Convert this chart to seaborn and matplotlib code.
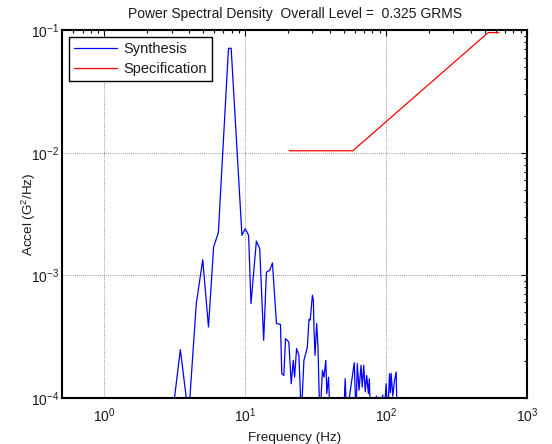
import matplotlib
matplotlib.use("Agg")
import matplotlib.pyplot as plt
import seaborn as sns
import pandas as pd
import numpy as np
from matplotlib.ticker import LogLocator, NullFormatter

# ---- data ----
synth_freq = [2.9, 3.03, 3.46, 3.96, 4.49, 4.99, 5.48, 5.96, 6.44, 7.60, 7.94,
              9.47, 10.0, 10.56, 10.98, 11.99, 12.66, 13.51, 14.13, 14.92, 15.59,
              16.65, 17.78, 18.16, 18.78, 19.31, 20.38, 21.2, 21.91, 22.39, 23.13,
              24.03, 24.99, 26.08, 27.58, 28.34, 28.9, 29.95, 30.45, 30.76, 31.27,
              32.14, 32.82, 33.4, 34.0, 35.3, 36.2, 37.3, 37.9, 39.0, 40.0,
              49.9, 51.2, 52.4, 59.4, 61.1, 62.4, 64.2, 66.3, 67.7, 69.3,
              71.1, 72.8, 74.8, 76.0, 77.3, 83.4, 85.2, 87.7, 94.6, 96.5,
              100.0, 102.8, 105.6, 107.2, 108.6, 111.5, 114.6, 117.8, 119.5]
synth_psd = [5e-5, 7e-5, 2.47e-4, 7e-5, 5.87e-4, 1.34e-3, 3.78e-4, 1.70e-3, 2.23e-3, 0.0714, 0.0714,
             2.12e-3, 2.40e-3, 2.12e-3, 5.87e-4, 1.90e-3, 1.65e-3, 2.94e-4, 1.06e-3, 1.10e-3, 1.26e-3,
             4.03e-4, 3.97e-4, 1.57e-4, 1.52e-4, 3.04e-4, 2.85e-4, 1.30e-4, 2.02e-4, 1.47e-4, 2.52e-4,
             2.22e-4, 7e-5, 2.02e-4, 2.58e-4, 4.37e-4, 4.30e-4, 6.86e-4, 6.25e-4, 3.55e-4, 2.22e-4,
             4.03e-4, 2.60e-4, 1.15e-4, 7e-5, 1.67e-4, 1.47e-4, 2.02e-4, 1.08e-4, 1.47e-4, 7e-5,
             7e-5, 1.43e-4, 7e-5, 1.93e-4, 7e-5, 1.90e-4, 1.15e-4, 1.84e-4, 1.22e-4, 1.84e-4,
             1.12e-4, 1.52e-4, 1.08e-4, 1.43e-4, 7e-5, 7e-5, 1.03e-4, 7e-5, 1.05e-4, 7e-5,
             1.30e-4, 7e-5, 1.57e-4, 1.10e-4, 1.58e-4, 1.03e-4, 1.38e-4, 1.62e-4, 7e-5]

spec_freq = [20.5, 58.0, 530.0, 630.0]
spec_psd = [0.0104, 0.0104, 0.096, 0.096]

title_text = "Power Spectral Density  Overall Level =  0.325 GRMS"
x_label = "Frequency (Hz)"
y_label = "Accel (G$^2$/Hz)"
series_names = ["Synthesis", "Specification"]

# ---- styling ----
sns.set_style("white")
plt.rcParams['font.family'] = ['Liberation Sans', 'DejaVu Sans']
plt.rcParams['mathtext.fontset'] = 'custom'
plt.rcParams['mathtext.rm'] = 'Liberation Sans'
plt.rcParams['mathtext.it'] = 'Liberation Sans:italic'
plt.rcParams['text.color'] = '#1a1a1a'
plt.rcParams['axes.labelcolor'] = '#1a1a1a'

fig = plt.figure(figsize=(5.52, 4.44), dpi=100)
fig.patch.set_facecolor('white')
ax = fig.add_axes([62/552, 1-397.7/444, (527-62)/552, (397.7-30.4)/444])
ax.set_xscale('log')
ax.set_yscale('log')

df_s = pd.DataFrame({"f": synth_freq, "p": synth_psd})
df_p = pd.DataFrame({"f": spec_freq, "p": spec_psd})
sns.lineplot(data=df_s, x="f", y="p", ax=ax, color="#0000ff", lw=0.9,
             sort=False, estimator=None, label=series_names[0])
sns.lineplot(data=df_p, x="f", y="p", ax=ax, color="#ff0000", lw=0.9,
             sort=False, estimator=None, label=series_names[1])

ax.set_xlim(0.5, 1000)
ax.set_ylim(1e-4, 1e-1)

ax.xaxis.set_major_locator(LogLocator(base=10, numticks=10))
ax.yaxis.set_major_locator(LogLocator(base=10, numticks=10))
ax.xaxis.set_minor_locator(LogLocator(base=10, subs=np.arange(2, 10), numticks=20))
ax.yaxis.set_minor_locator(LogLocator(base=10, subs=np.arange(2, 10), numticks=20))
ax.xaxis.set_minor_formatter(NullFormatter())
ax.yaxis.set_minor_formatter(NullFormatter())

ax.grid(True, which='major', color='black', linestyle=(0, (1, 2)), linewidth=0.5, alpha=0.8)
ax.tick_params(which='both', direction='in', top=True, right=True, colors='black',
               labelsize=10)
ax.tick_params(which='both', labelcolor='#1a1a1a')
ax.tick_params(axis='x', which='major', pad=6.5)
ax.tick_params(axis='y', which='major', pad=2)
ax.tick_params(which='major', length=4, width=0.8)
ax.tick_params(which='minor', length=2.5, width=0.8)
for s in ax.spines.values():
    s.set_color('black')
    s.set_linewidth(1.5)

ax.set_title(title_text, fontsize=10, pad=9)
ax.set_xlabel(x_label, fontsize=9.7, labelpad=5)
ax.set_ylabel(y_label, fontsize=9.7, labelpad=-5)

leg = ax.legend(loc='upper left', fontsize=10.5, frameon=True, fancybox=False,
                edgecolor='black', framealpha=1, borderpad=0.35, handlelength=2.95,
                handletextpad=0.45, labelspacing=0.4, borderaxespad=0.45)
leg.get_frame().set_linewidth(1.0)

fig.savefig("out.png", dpi=100, facecolor='white')
